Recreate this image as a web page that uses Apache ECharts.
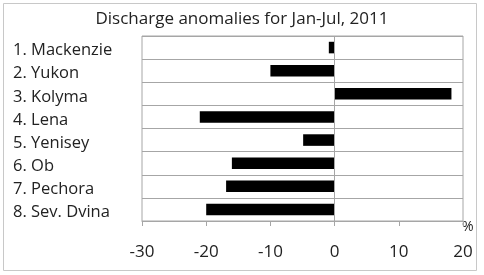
<!DOCTYPE html>
<html><head><meta charset="utf-8">
<script src="https://cdn.jsdelivr.net/npm/echarts@6/dist/echarts.min.js"></script>
<style>html,body{margin:0;padding:0;background:#fff}#c{width:484px;height:275px}</style>
</head><body><div id="c"></div>
<script>
const categories = ['1. Mackenzie','2. Yukon','3. Kolyma','4. Lena','5. Yenisey','6. Ob','7. Pechora','8. Sev. Dvina'];
const anomalies = [-0.9, -10, 18.2, -21, -4.9, -16, -16.9, -20];
const xTicks = { min: -30, max: 20, interval: 10 };
const titleText = 'Discharge anomalies for Jan-Jul, 2011';
const unitText = '%';

const font = '"Open Sans", sans-serif';
const gridColor = '#a6a6a6';
const chart = echarts.init(document.getElementById('c'));
chart.setOption({
  animation: false,
  backgroundColor: '#fff',
  title: { text: titleText, left: 'center', top: 6, textStyle: { fontFamily: font, fontSize: 17, fontWeight: 'normal', color: '#222' } },
  grid: { left: 142, right: 21, top: 36, bottom: 54, show: true, borderColor: gridColor, borderWidth: 1 },
  xAxis: {
    type: 'value', min: xTicks.min, max: xTicks.max, interval: xTicks.interval,
    splitLine: { show: false },
    axisLine: { show: true, lineStyle: { color: gridColor } },
    axisTick: { show: true, length: 5, lineStyle: { color: gridColor } },
    axisLabel: { fontFamily: font, fontSize: 17, color: '#222', margin: 23 }
  },
  yAxis: {
    type: 'category', data: categories, inverse: true,
    axisLine: { show: false }, axisTick: { show: false },
    splitLine: { show: true, lineStyle: { color: gridColor } },
    axisLabel: { align: 'left', margin: 129,
      formatter: v => '{a|' + v + '}',
      rich: { a: { fontFamily: font, fontSize: 16.5, color: '#222', padding: [6, 0, 0, 0] } } }
  },
  series: [{
    type: 'bar', data: anomalies, barWidth: '50%',
    itemStyle: { color: '#000' },
    markLine: { silent: true, symbol: 'none', label: { show: false },
      lineStyle: { color: gridColor, type: 'solid', width: 1 }, data: [{ xAxis: 0 }] }
  }],
  graphic: [
    { type: 'rect', shape: { x: 3.5, y: 3.5, width: 473, height: 267 }, style: { fill: 'none', stroke: '#c8c8c8', lineWidth: 1 }, z: -1 },
    { type: 'text', left: 462, top: 220, style: { text: unitText, font: '14px "Open Sans", sans-serif', fill: '#222' } }
  ]
});
</script></body></html>
